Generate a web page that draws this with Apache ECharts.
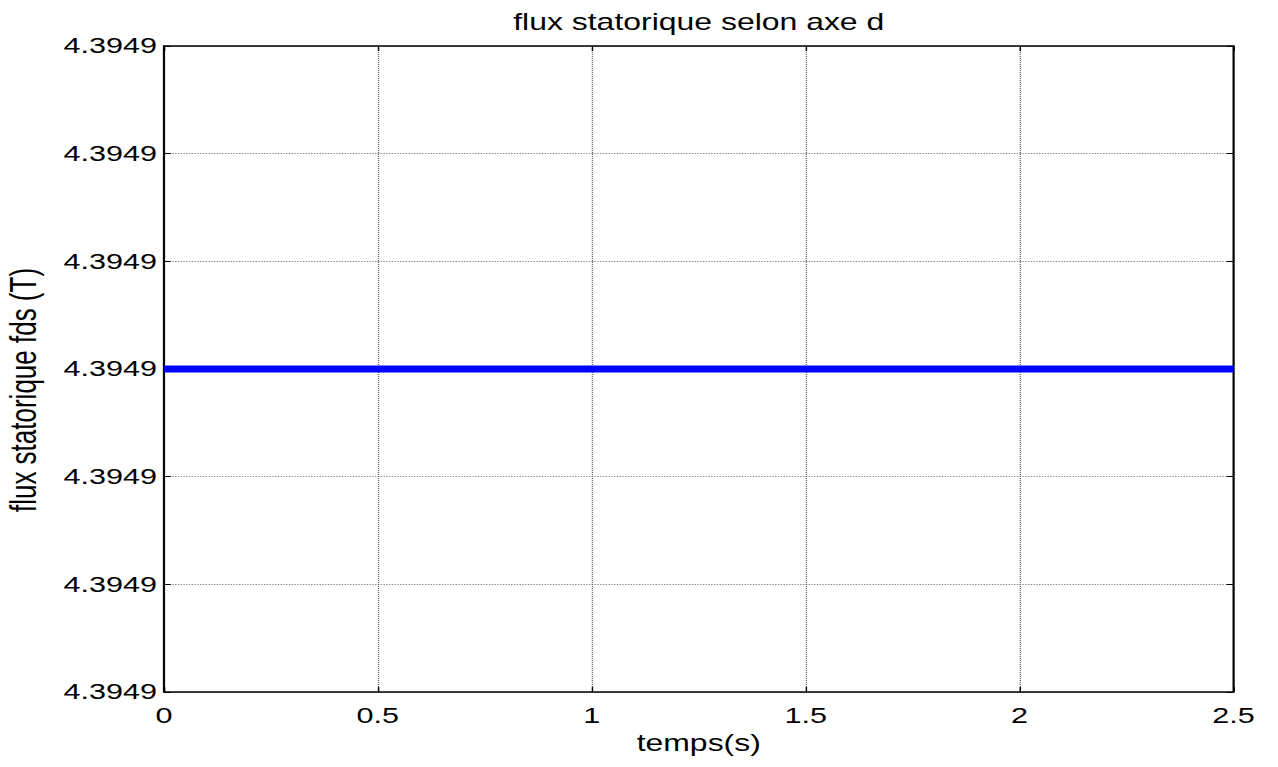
<!DOCTYPE html>
<html><head><meta charset="utf-8">
<script src="https://cdn.jsdelivr.net/npm/echarts@6/dist/echarts.min.js"></script>
<style>
html,body{margin:0;padding:0;background:#fff;overflow:hidden}
#wrap{width:1278px;height:767px;overflow:hidden}
#c{width:920px;height:767px;transform:scaleX(1.38913);transform-origin:0 0}
</style>
</head><body><div id="wrap"><div id="c"></div></div>
<script>
// data
const time = [0, 0.5, 1, 1.5, 2, 2.5];
const flux = [4.3949, 4.3949, 4.3949, 4.3949, 4.3949, 4.3949];
const xTicks = [0, 0.5, 1, 1.5, 2, 2.5];
const yMin = 4.394897, yMax = 4.394903, yStep = 0.000001;
const titleText = 'flux statorique selon axe d';
const xName = 'temps(s)';
const yName = 'flux statorique fds (T)';

const FONT = 'Liberation Sans, Arial, sans-serif';
const chart = echarts.init(document.getElementById('c'), null, {renderer:'svg'});
const tickStyle = {show:true, inside:true, length:5, lineStyle:{color:'#000', width:1}};
const axisLineStyle = {show:true, onZero:false, lineStyle:{color:'#000', width:1.5}};
chart.setOption({
  animation:false,
  title:{text:titleText, left:498, top:6, textAlign:'center',
    textStyle:{fontFamily:FONT, fontSize:23, fontWeight:'normal', color:'#000'}},
  grid:{left:118, right:32, top:46, bottom:75, containLabel:false, outerBoundsMode:'none'},
  xAxis:[{type:'value', min:xTicks[0], max:xTicks[xTicks.length-1], interval:0.5, position:'bottom',
    name:xName, nameLocation:'middle', nameGap:38,
    nameTextStyle:{fontFamily:FONT, fontSize:23, color:'#000'},
    axisLine:axisLineStyle, axisTick:tickStyle,
    axisLabel:{fontFamily:FONT, fontSize:22, color:'#000', margin:13, formatter:v=>String(v)},
    splitLine:{show:true, lineStyle:{color:'#666', type:'dotted', width:1}}},
   {type:'value', min:xTicks[0], max:xTicks[xTicks.length-1], interval:0.5, position:'top',
    axisLine:axisLineStyle, axisTick:tickStyle, axisLabel:{show:false}, splitLine:{show:false}}],
  yAxis:[{type:'value', min:yMin, max:yMax, interval:yStep, position:'left',
    name:yName, nameLocation:'middle', nameGap:88, nameRotate:90,
    nameTextStyle:{fontFamily:FONT, fontSize:26, color:'#000', padding:[0,42,0,0]},
    axisLine:axisLineStyle, axisTick:tickStyle,
    axisLabel:{fontFamily:FONT, fontSize:22, color:'#000', margin:5, formatter:v=>v.toFixed(4)},
    splitLine:{show:true, lineStyle:{color:'#888', type:'dotted', width:1}}},
   {type:'value', min:yMin, max:yMax, interval:yStep, position:'right',
    axisLine:axisLineStyle, axisTick:tickStyle, axisLabel:{show:false}, splitLine:{show:false}}],
  series:[{type:'line', data:time.map((t,i)=>[t, flux[i]]), showSymbol:false,
    lineStyle:{color:'#0000ff', width:7}, itemStyle:{color:'#0000ff'}}]
});
</script></body></html>
